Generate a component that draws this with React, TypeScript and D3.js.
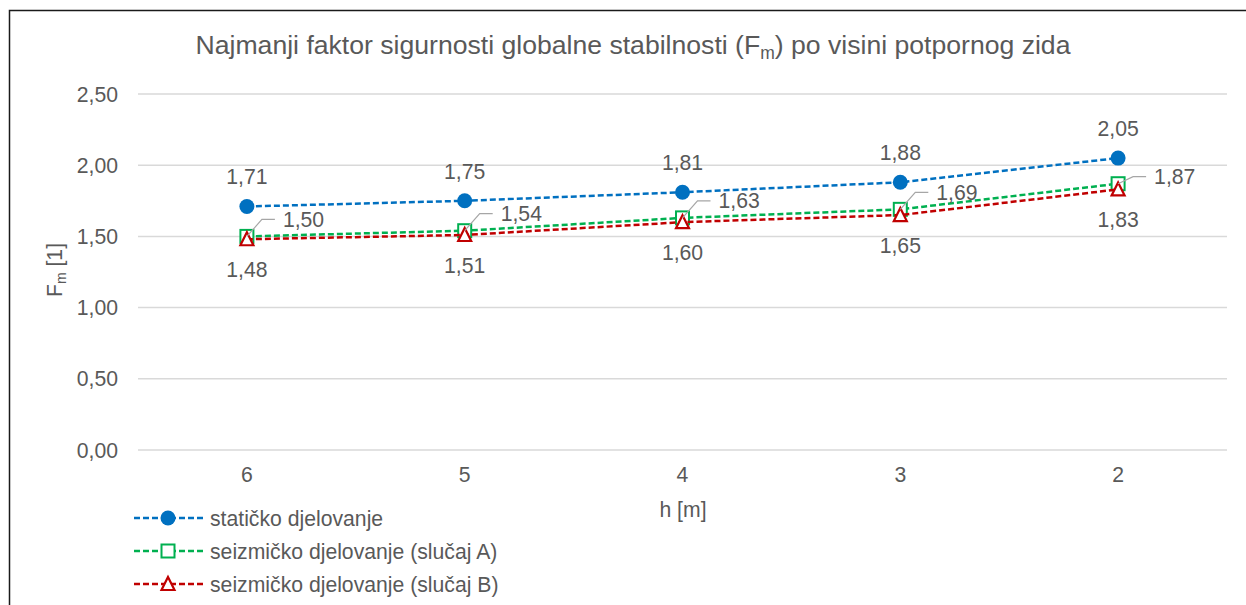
import React from "react";
import * as d3 from "d3";

const categories = ["6", "5", "4", "3", "2"];
const staticko = [1.71, 1.75, 1.81, 1.88, 2.05];
const seizmickoA = [1.5, 1.54, 1.63, 1.69, 1.87];
const seizmickoB = [1.48, 1.51, 1.6, 1.65, 1.83];
const yTicks = [0, 0.5, 1, 1.5, 2, 2.5];
const seriesNames = [
  "statičko djelovanje",
  "seizmičko djelovanje (slučaj A)",
  "seizmičko djelovanje (slučaj B)",
];

const W = 1246;
const H = 605;
const FONT = "'Liberation Sans', Arial, sans-serif";
const TXT = "#595959";
const BLUE = "#0070C0";
const GREEN = "#00B050";
const RED = "#C00000";
const FS = 21.2;

const fmt = (v: number) => v.toFixed(2).replace(".", ",");

function Marker({ kind, x, y, color }: { kind: string; x: number; y: number; color: string }) {
  if (kind === "circle") return <circle cx={x} cy={y} r={7.5} fill={color} />;
  if (kind === "square")
    return <rect x={x - 6.5} y={y - 6.5} width={13} height={13} fill="#fff" stroke={color} strokeWidth={2} />;
  const s = 13;
  const h = 12;
  return (
    <path
      d={`M${x},${y - h / 2 - 1} L${x + s / 2},${y + h / 2} L${x - s / 2},${y + h / 2} Z`}
      fill="#fff"
      stroke={color}
      strokeWidth={2.2}
    />
  );
}

export default function App() {
  const x = d3.scaleBand<string>().domain(categories).range([138, 1227]).padding(0);
  const y = d3.scaleLinear().domain([0, 2.5]).range([450, 94]);
  const cx = (c: string) => (x(c) as number) + x.bandwidth() / 2;
  const line = d3
    .line<number>()
    .x((_, i) => cx(categories[i]))
    .y((d) => y(d));

  const series = [
    { name: seriesNames[0], data: staticko, color: BLUE, kind: "circle" },
    { name: seriesNames[1], data: seizmickoA, color: GREEN, kind: "square" },
    { name: seriesNames[2], data: seizmickoB, color: RED, kind: "triangle" },
  ];

  return (
    <svg
      width={W}
      height={H}
      style={{ position: "absolute", left: 0, top: 0, background: "#fff" }}
      fontFamily={FONT}
    >
      <rect x={9.5} y={10.5} width={1300} height={700} fill="#fff" stroke="#1a1a1a" strokeWidth={1.5} />
      <text x={633} y={54} textAnchor="middle" fontSize={26.6} fill={TXT}>
        Najmanji faktor sigurnosti globalne stabilnosti (F
        <tspan fontSize={17.5} dy={5}>m</tspan>
        <tspan dy={-5}>) po visini potpornog zida</tspan>
      </text>

      {yTicks.map((t) => (
        <g key={t}>
          <line x1={138} x2={1227} y1={y(t)} y2={y(t)} stroke="#D9D9D9" strokeWidth={1.5} />
          <text x={118} y={y(t) + 7.5} textAnchor="end" fontSize={FS} fill={TXT}>
            {fmt(t)}
          </text>
        </g>
      ))}
      {categories.map((c) => (
        <text key={c} x={cx(c)} y={482} textAnchor="middle" fontSize={FS} fill={TXT}>
          {c}
        </text>
      ))}
      <text x={683} y={517} textAnchor="middle" fontSize={FS} fill={TXT}>
        h [m]
      </text>
      <text transform="translate(62,270) rotate(-90)" textAnchor="middle" fontSize={FS} fill={TXT}>
        F<tspan fontSize={14} dy={4}>m</tspan>
        <tspan dy={-4}> [1]</tspan>
      </text>

      {series.map((s) => (
        <g key={s.name}>
          <path d={line(s.data) || ""} fill="none" stroke={s.color} strokeWidth={2.5} strokeDasharray="6,3" />
          {s.data.map((v, i) => (
            <Marker key={i} kind={s.kind} x={cx(categories[i])} y={y(v)} color={s.color} />
          ))}
        </g>
      ))}

      {staticko.map((v, i) => (
        <text key={"b" + i} x={cx(categories[i])} y={y(v) - 22} textAnchor="middle" fontSize={FS} fill={TXT}>
          {fmt(v)}
        </text>
      ))}
      {seizmickoB.map((v, i) => (
        <text key={"r" + i} x={cx(categories[i])} y={y(v) + 38} textAnchor="middle" fontSize={FS} fill={TXT}>
          {fmt(v)}
        </text>
      ))}
      {seizmickoA.map((v, i) => {
        const px = cx(categories[i]);
        const py = y(v);
        const dy = i === seizmickoA.length - 1 ? -7 : -17;
        const ly = py + dy;
        return (
          <g key={"g" + i}>
            <polyline
              points={`${px},${py} ${px + 15},${ly} ${px + 28},${ly}`}
              fill="none"
              stroke="#A6A6A6"
              strokeWidth={1.2}
            />
            <text x={px + 36} y={ly + 7.5} fontSize={FS} fill={TXT}>
              {fmt(v)}
            </text>
          </g>
        );
      })}

      {series.map((s, i) => {
        const ly = 518 + i * 33;
        return (
          <g key={"l" + i}>
            <line x1={134} x2={203} y1={ly} y2={ly} stroke={s.color} strokeWidth={2.5} strokeDasharray="6,3" />
            <Marker kind={s.kind} x={168} y={ly} color={s.color} />
            <text x={210} y={ly + 7.5} fontSize={FS} fill={TXT}>
              {s.name}
            </text>
          </g>
        );
      })}
    </svg>
  );
}
